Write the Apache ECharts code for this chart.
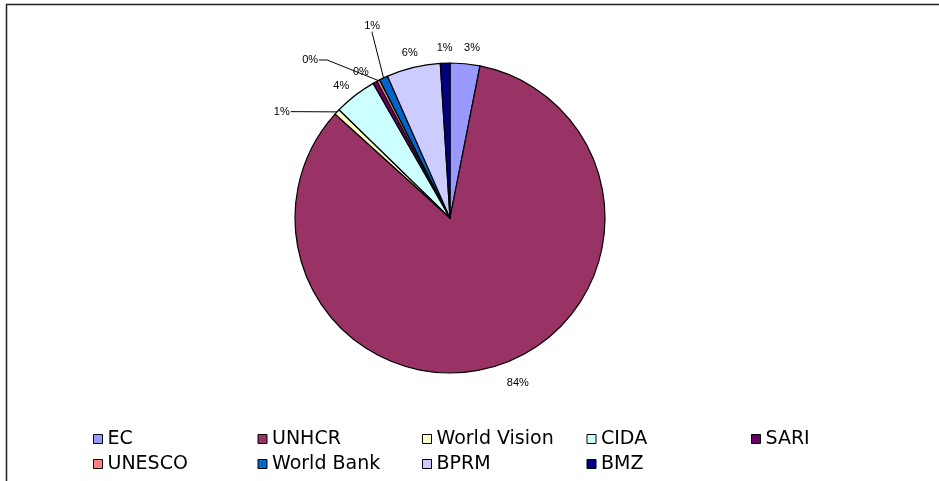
<!DOCTYPE html>
<html>
<head>
<meta charset="utf-8">
<script src="https://cdn.jsdelivr.net/npm/echarts@6/dist/echarts.min.js"></script>
<style>
html,body{margin:0;padding:0;background:#fff;}
#chart{width:939px;height:481px;}
</style>
</head>
<body>
<div id="chart"></div>
<script>
// ---- data ----
const categories = ['EC', 'UNHCR', 'World Vision', 'CIDA', 'SARI', 'UNESCO', 'World Bank', 'BPRM', 'BMZ'];
const shares = [3.1, 83.6, 0.6, 4.45, 0.45, 0.3, 0.9, 5.6, 1.0];
const colors = ['#9999FF', '#993366', '#FFFFCC', '#CCFFFF', '#660066', '#FF8080', '#0066CC', '#CCCCFF', '#000080'];

// ---- layout ----
const CX = 450, CY = 218, R = 155, LABEL_R = 170;
// label placement overrides (polar, degrees clockwise from top)
const labelPlacement = {
  'EC': { angle: 7.4, r: 171 },
  'UNHCR': { angle: 157.6, r: 178 },
  'World Vision': { angle: -57.7, r: 199, leader: 'elbow' },
  'CIDA': { angle: -39.5, r: 171 },
  'SARI': { angle: -31.4, r: 171 },
  'UNESCO': { angle: -41.5, r: 211, leader: 'elbow' },
  'World Bank': { angle: -22.1, r: 207, leader: 'down' }
};

const total = shares.reduce((a, b) => a + b, 0);
const midAngles = [];
let cum = 0;
shares.forEach(v => { midAngles.push((cum + v / 2) / total * 360); cum += v; });

function polar(deg, r) {
  const a = deg * Math.PI / 180;
  return [CX + r * Math.sin(a), CY - r * Math.cos(a)];
}

const chart = echarts.init(document.getElementById('chart'), null, { renderer: 'canvas' });
chart.setOption({
  animation: false,
  backgroundColor: '#fff',
  color: colors,
  graphic: [{
    type: 'rect', silent: true,
    shape: { x: 6.5, y: 4.5, width: 1000, height: 1000 },
    style: { fill: 'none', stroke: '#222', lineWidth: 1.5 }
  }],
  legend: {
    left: 88, top: 424, width: 840,
    orient: 'horizontal',
    itemWidth: 9, itemHeight: 9, itemGap: 5,
    icon: 'rect',
    itemStyle: { borderColor: '#000', borderWidth: 1 },
    textStyle: { fontFamily: 'DejaVu Sans, sans-serif', fontSize: 19, color: '#000', width: 145, lineHeight: 20, padding: [0, 0, 0, 0] },
    data: categories
  },
  series: [{
    type: 'pie',
    center: [CX, CY],
    radius: R,
    startAngle: 90,
    clockwise: true,
    avoidLabelOverlap: false,
    itemStyle: { borderColor: '#000', borderWidth: 1.2 },
    label: {
      show: true, position: 'outside',
      fontFamily: 'Liberation Sans, Arial, sans-serif', fontSize: 11, color: '#000',
      formatter: p => Math.round(p.percent) + '%'
    },
    labelLine: { show: true, lineStyle: { color: '#000', width: 1 } },
    emphasis: { disabled: true },
    data: categories.map((c, i) => ({
      name: c, value: shares[i],
      labelLine: { show: !!(labelPlacement[c] && labelPlacement[c].leader) }
    })),
    labelLayout: function (params) {
      const i = params.dataIndex;
      const name = categories[i];
      const pl = labelPlacement[name];
      const ang = pl ? pl.angle : midAngles[i];
      const r = pl ? pl.r : LABEL_R;
      const [x, y] = polar(ang, r);
      const out = { x: x, y: y, align: 'center', verticalAlign: 'middle' };
      if (pl && pl.leader) {
        const w = params.labelRect.width, h = params.labelRect.height;
        const edge = polar(midAngles[i], R);
        if (pl.leader === 'elbow') {
          out.labelLinePoints = [edge, [x + w / 2 + 9, y], [x + w / 2 + 1, y]];
        } else {
          out.labelLinePoints = [edge, [x, y + h / 2 + 1], [x, y + h / 2]];
        }
      }
      return out;
    }
  }]
});
</script>
</body>
</html>
